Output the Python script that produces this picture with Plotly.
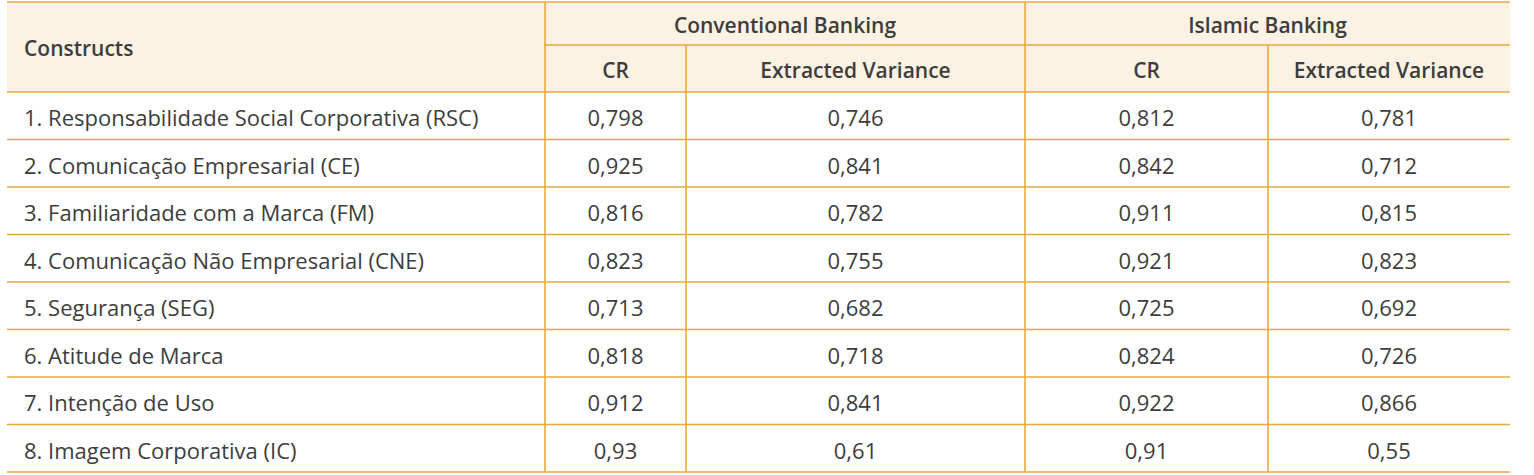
import plotly.graph_objects as go

# table data
constructs = [
    "1. Responsabilidade Social Corporativa (RSC)",
    "2. Comunicação Empresarial (CE)",
    "3. Familiaridade com a Marca (FM)",
    "4. Comunicação Não Empresarial (CNE)",
    "5. Segurança (SEG)",
    "6. Atitude de Marca",
    "7. Intenção de Uso",
    "8. Imagem Corporativa (IC)",
]
conv_cr = [0.798, 0.925, 0.816, 0.823, 0.713, 0.818, 0.912, 0.93]
conv_ev = [0.746, 0.841, 0.782, 0.755, 0.682, 0.718, 0.841, 0.61]
isl_cr = [0.812, 0.842, 0.911, 0.921, 0.725, 0.824, 0.922, 0.91]
isl_ev = [0.781, 0.712, 0.815, 0.823, 0.692, 0.726, 0.866, 0.55]

group_labels = ["Conventional Banking", "Islamic Banking"]
sub_labels = ["CR", "Extracted Variance", "CR", "Extracted Variance"]
first_header = "Constructs"

# layout (pixel units on the axes)
W, H = 1534, 475
col_edges = [7, 545, 686, 1025, 1268, 1510]
head_top, head_mid, head_bot = 2, 45, 92
row_h = 47.5
label_x = 24
text_dy = 5
head_dy = 4

line_col = "#E6A940"
head_fill = "#FBF2E3"
text_col = "#3d3d3d"
font_fam = "Open Sans"


def fmt(v):
    return str(v).replace(".", ",")


n = len(constructs)
row_edges = [head_bot + i * row_h for i in range(n + 1)]
row_mid = [(row_edges[i] + row_edges[i + 1]) / 2 + text_dy for i in range(n)]
col_mid = [(col_edges[i] + col_edges[i + 1]) / 2 for i in range(len(col_edges) - 1)]

fig = go.Figure()

# body: construct names
fig.add_trace(go.Scatter(
    x=[label_x] * n, y=row_mid, mode="text", text=constructs,
    textposition="middle right",
    textfont=dict(family=font_fam, size=22, color=text_col),
    hoverinfo="skip",
))

# body: values
for j, series in enumerate([conv_cr, conv_ev, isl_cr, isl_ev]):
    fig.add_trace(go.Scatter(
        x=[col_mid[j + 1]] * n, y=row_mid, mode="text",
        text=[fmt(v) for v in series],
        textposition="middle center",
        textfont=dict(family=font_fam, size=22, color=text_col),
        hoverinfo="skip",
    ))

# header texts
hfont = dict(family=font_fam, size=21, color=text_col, weight=600)
fig.add_trace(go.Scatter(
    x=[label_x], y=[(head_top + head_bot) / 2 + head_dy], mode="text",
    text=[first_header], textposition="middle right", textfont=hfont,
    hoverinfo="skip",
))
fig.add_trace(go.Scatter(
    x=[(col_edges[1] + col_edges[3]) / 2, (col_edges[3] + col_edges[5]) / 2],
    y=[(head_top + head_mid) / 2 + head_dy] * 2, mode="text",
    text=group_labels, textposition="middle center", textfont=hfont,
    hoverinfo="skip",
))
fig.add_trace(go.Scatter(
    x=col_mid[1:], y=[(head_mid + head_bot) / 2 + head_dy] * 4, mode="text",
    text=sub_labels, textposition="middle center", textfont=hfont,
    hoverinfo="skip",
))

# header background
fig.add_shape(type="rect", x0=col_edges[0], x1=col_edges[-1], y0=head_top, y1=head_bot,
              fillcolor=head_fill, line_width=0, layer="below")

# horizontal rules
line = dict(color=line_col, width=1.6)
for y in [head_top, head_bot] + row_edges[1:]:
    fig.add_shape(type="line", x0=col_edges[0], x1=col_edges[-1], y0=y, y1=y, line=line)
fig.add_shape(type="line", x0=col_edges[1], x1=col_edges[-1], y0=head_mid, y1=head_mid, line=line)

# vertical rules
for x in [col_edges[1], col_edges[3]]:
    fig.add_shape(type="line", x0=x, x1=x, y0=head_top, y1=row_edges[-1], line=line)
for x in [col_edges[2], col_edges[4]]:
    fig.add_shape(type="line", x0=x, x1=x, y0=head_mid, y1=row_edges[-1], line=line)

fig.update_layout(
    width=W, height=H,
    margin=dict(l=0, r=0, t=0, b=0),
    paper_bgcolor="white", plot_bgcolor="white",
    showlegend=False,
    xaxis=dict(range=[0, W], visible=False, fixedrange=True),
    yaxis=dict(range=[H, 0], visible=False, fixedrange=True),
)

fig.write_html("out.html", config={"displayModeBar": False},
               post_script="document.body.style.margin='0';")
